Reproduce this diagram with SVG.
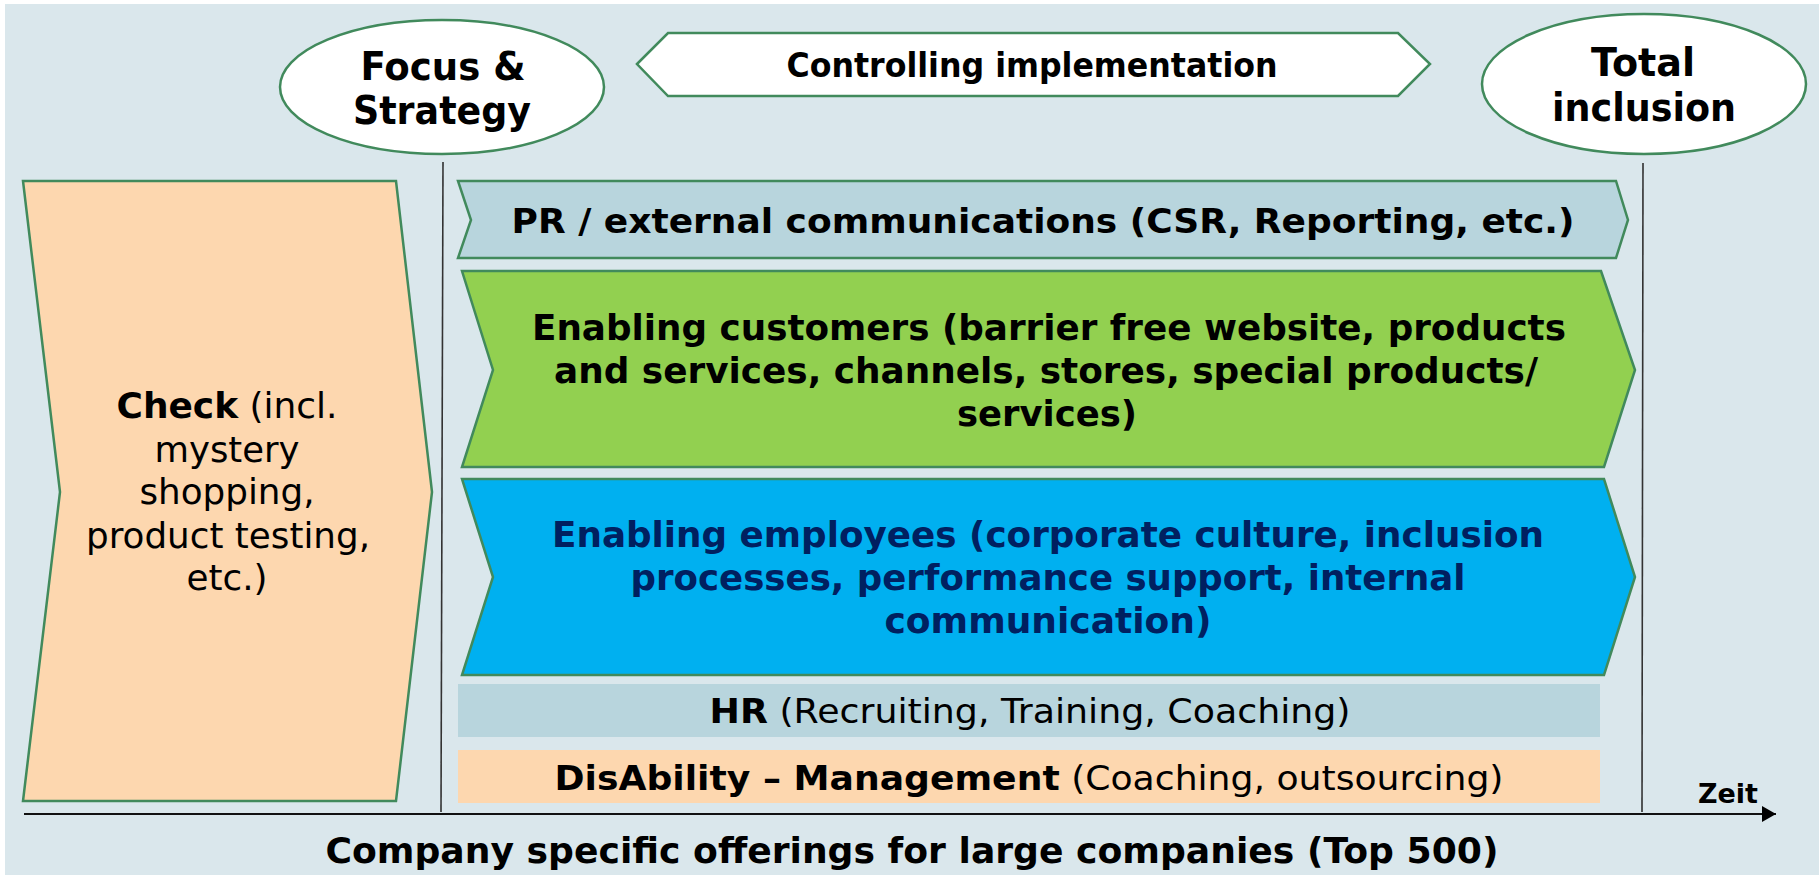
<svg xmlns="http://www.w3.org/2000/svg" width="1819" height="875" viewBox="0 0 1819 875">
<style>
.sh{stroke:#418A5C;stroke-width:2.5;stroke-linejoin:miter}
.t{font-family:"DejaVu Sans","Liberation Sans",sans-serif;font-weight:bold;fill:#000;text-anchor:middle}
.n{font-weight:normal}
.v{stroke:#333;stroke-width:1.6}
</style>
<defs>
<marker id="ah" viewBox="0 0 14 16" refX="14" refY="8" markerWidth="14" markerHeight="16" markerUnits="userSpaceOnUse" orient="auto">
<path d="M0,0 L14,8 L0,16 Z" fill="#000"/>
</marker>
</defs>
<rect x="5" y="4" width="1814" height="871" fill="#DAE7EC"/>

<g id="connectors">
<line class="v" x1="443" y1="162" x2="441" y2="812"/>
<line class="v" x1="1643" y1="163" x2="1642" y2="812"/>
<line x1="24" y1="814" x2="1776" y2="814" stroke="#111" stroke-width="2" marker-end="url(#ah)"/>
</g>

<g id="focus">
<ellipse class="sh" cx="442" cy="87" rx="162" ry="67" fill="#fff"/>
<text class="t" font-size="39" x="443" y="80" textLength="165" lengthAdjust="spacingAndGlyphs">Focus &amp;</text>
<text class="t" font-size="39" x="442" y="124" textLength="178" lengthAdjust="spacingAndGlyphs">Strategy</text>
</g>

<g id="controlling">
<polygon class="sh" points="637,64 668,33 1398,33 1430,64 1398,96 668,96" fill="#fff"/>
<text class="t" font-size="33" x="1032" y="77" textLength="491" lengthAdjust="spacingAndGlyphs">Controlling implementation</text>
</g>

<g id="total">
<ellipse class="sh" cx="1644" cy="84" rx="162" ry="70" fill="#fff"/>
<text class="t" font-size="39" x="1643" y="76" textLength="104" lengthAdjust="spacingAndGlyphs">Total</text>
<text class="t" font-size="39" x="1644" y="121" textLength="184" lengthAdjust="spacingAndGlyphs">inclusion</text>
</g>

<g id="check">
<polygon class="sh" points="23,181 396,181 432,492 396,801 23,801 60,492" fill="#FDD7AF"/>
<text class="t" font-size="36" x="227" y="418" textLength="221" lengthAdjust="spacingAndGlyphs">Check<tspan class="n"> (incl.</tspan></text>
<text class="t n" font-size="36" x="227" y="462" textLength="145" lengthAdjust="spacingAndGlyphs">mystery</text>
<text class="t n" font-size="36" x="227" y="504" textLength="175" lengthAdjust="spacingAndGlyphs">shopping,</text>
<text class="t n" font-size="36" x="228" y="548" textLength="284" lengthAdjust="spacingAndGlyphs">product testing,</text>
<text class="t n" font-size="36" x="227" y="590" textLength="81" lengthAdjust="spacingAndGlyphs">etc.)</text>
</g>

<g id="pr">
<polygon class="sh" points="458,181 1616,181 1628,220 1616,258 458,258 471,220" fill="#B8D5DD"/>
<text class="t" font-size="34" x="1043" y="233" textLength="1063" lengthAdjust="spacingAndGlyphs">PR / external communications (CSR, Reporting, etc.)</text>
</g>

<g id="customers">
<polygon class="sh" points="462,271 1601,271 1635,370 1604,467 462,467 493,370" fill="#92D050"/>
<text class="t" font-size="35" x="1049" y="340" textLength="1034" lengthAdjust="spacingAndGlyphs">Enabling customers (barrier free website, products</text>
<text class="t" font-size="35" x="1046" y="383" textLength="984" lengthAdjust="spacingAndGlyphs">and services, channels, stores, special products/</text>
<text class="t" font-size="35" x="1047" y="426" textLength="180" lengthAdjust="spacingAndGlyphs">services)</text>
</g>

<g id="employees">
<polygon class="sh" points="462,479 1604,479 1635,577 1604,675 462,675 493,577" fill="#00B0F0"/>
<text class="t" font-size="35" x="1048" y="547" textLength="992" lengthAdjust="spacingAndGlyphs" style="fill:#002060">Enabling employees (corporate culture, inclusion</text>
<text class="t" font-size="35" x="1048" y="590" textLength="835" lengthAdjust="spacingAndGlyphs" style="fill:#002060">processes, performance support, internal</text>
<text class="t" font-size="35" x="1048" y="633" textLength="327" lengthAdjust="spacingAndGlyphs" style="fill:#002060">communication)</text>
</g>

<g id="hr">
<rect x="458" y="684" width="1142" height="53" fill="#B8D5DD"/>
<text class="t" font-size="34" x="1030" y="723" textLength="641" lengthAdjust="spacingAndGlyphs">HR<tspan class="n"> (Recruiting, Training, Coaching)</tspan></text>
</g>

<g id="disability">
<rect x="458" y="750" width="1142" height="53" fill="#FDD7AF"/>
<text class="t" font-size="34" x="1029" y="790" textLength="949" lengthAdjust="spacingAndGlyphs">DisAbility – Management<tspan class="n"> (Coaching, outsourcing)</tspan></text>
</g>

<g id="labels">
<text class="t" font-size="27" x="1728" y="803" textLength="60" lengthAdjust="spacingAndGlyphs">Zeit</text>
<text class="t" font-size="36" x="912" y="863" textLength="1173" lengthAdjust="spacingAndGlyphs">Company specific offerings for large companies (Top 500)</text>
</g>
</svg>
